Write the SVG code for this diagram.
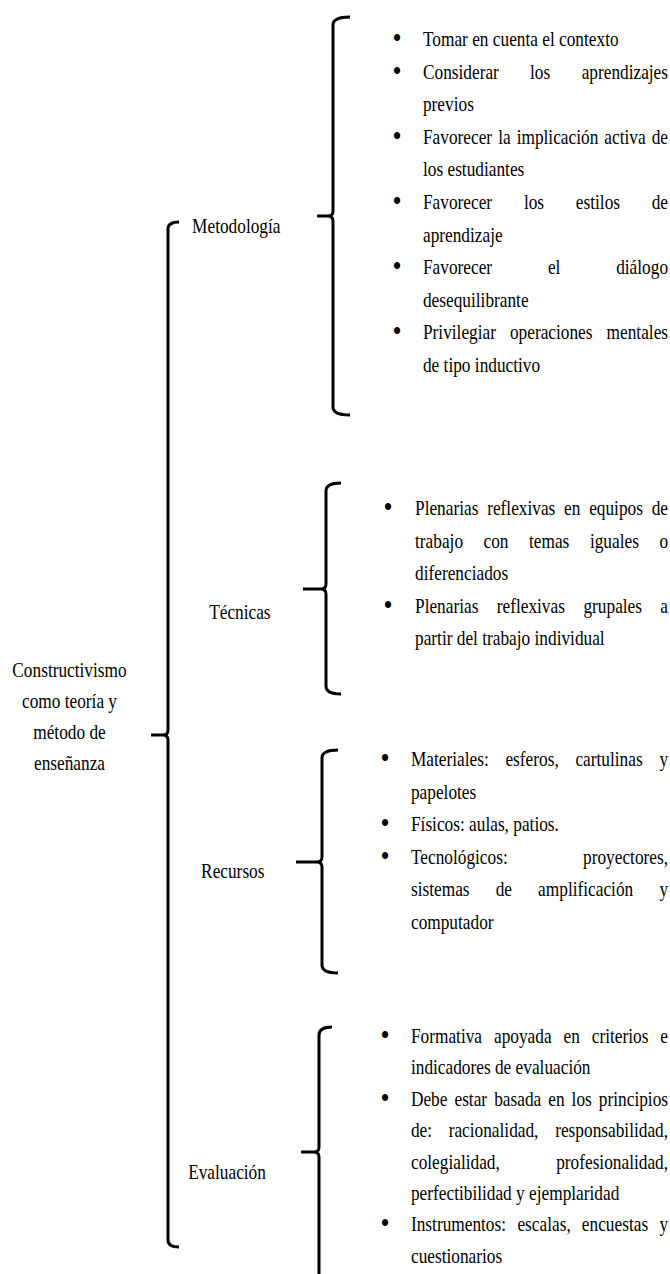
<svg xmlns="http://www.w3.org/2000/svg" width="670" height="1274" viewBox="0 0 670 1274">
<style>
.t{font-family:"Liberation Serif","Times New Roman",serif;font-size:20px;fill:#000}
.e{text-anchor:end}
.m{text-anchor:middle}
.bu{text-anchor:middle;font-size:30px}
.br{fill:none;stroke:#000;stroke-width:3;stroke-linejoin:round}
</style>
<rect width="670" height="1274" fill="#fff"/>
<g id="connectors">
<path class="br" d="M179,222 Q168,222 168,229 V730 Q168,735 163,735 H151 M163,735 Q168,735 168,740 V1240 Q168,1247 179,1247"/>
<path class="br" d="M350,17 Q333,17 333,25 V211 Q333,216 328,216 H317 M328,216 Q333,216 333,221 V407 Q333,415 350,415"/>
<path class="br" d="M341,483 Q326,483 326,491 V584 Q326,589 321,589 H303 M321,589 Q326,589 326,594 V686 Q326,694 341,694"/>
<path class="br" d="M338,750 Q322,750 322,758 V857 Q322,862 317,862 H296 M317,862 Q322,862 322,867 V965 Q322,973 338,973"/>
<path class="br" d="M332,1027 Q319,1027 319,1035 V1147 Q319,1152 314,1152 H301 M314,1152 Q319,1152 319,1157 V1274"/>
</g>
<g id="root" class="t" transform="scale(0.865 1)">
<text x="80.35" y="677" class="m">Constructivismo</text>
<text x="80.35" y="708" class="m">como teoría y</text>
<text x="80.35" y="739" class="m">método de</text>
<text x="80.35" y="770" class="m">enseñanza</text>
</g>
<g id="metodologia" class="t" transform="scale(0.865 1)"><text x="222.1" y="233">Metodología</text></g>
<g id="tecnicas" class="t" transform="scale(0.865 1)"><text x="241.8" y="619">Técnicas</text></g>
<g id="recursos" class="t" transform="scale(0.865 1)"><text x="232.5" y="878">Recursos</text></g>
<g id="evaluacion" class="t" transform="scale(0.865 1)"><text x="217.5" y="1179">Evaluación</text></g>
<g id="list-metodologia" class="t" transform="scale(0.865 1)">
<text x="459" y="48" class="bu">•</text>
<text x="489" y="46">Tomar en cuenta el contexto</text>
<text x="459" y="80.6" class="bu">•</text>
<text x="489" y="78.6">Considerar</text><text x="612.8" y="78.6">los</text><text x="772.3" y="78.6" class="e">aprendizajes</text>
<text x="489" y="111.2">previos</text>
<text x="459" y="145.8" class="bu">•</text>
<text x="489" y="143.8">Favorecer</text><text x="576" y="143.8">la</text><text x="597.3" y="143.8">implicación</text><text x="698.7" y="143.8">activa</text><text x="772.3" y="143.8" class="e">de</text>
<text x="489" y="176.4">los estudiantes</text>
<text x="459" y="211" class="bu">•</text>
<text x="489" y="209">Favorecer</text><text x="605.7" y="209">los</text><text x="665.7" y="209">estilos</text><text x="772.3" y="209" class="e">de</text>
<text x="489" y="241.6">aprendizaje</text>
<text x="459" y="276.2" class="bu">•</text>
<text x="489" y="274.2">Favorecer</text><text x="633.4" y="274.2">el</text><text x="772.3" y="274.2" class="e">diálogo</text>
<text x="489" y="306.8">desequilibrante</text>
<text x="459" y="341.4" class="bu">•</text>
<text x="489" y="339.4">Privilegiar</text><text x="589.5" y="339.4">operaciones</text><text x="772.3" y="339.4" class="e">mentales</text>
<text x="489" y="372">de tipo inductivo</text>
</g>
<g id="list-tecnicas" class="t" transform="scale(0.865 1)">
<text x="448.6" y="517" class="bu">•</text>
<text x="479.8" y="515">Plenarias</text><text x="563.2" y="515">reflexivas</text><text x="652.1" y="515">en</text><text x="681.1" y="515">equipos</text><text x="772.3" y="515" class="e">de</text>
<text x="479.8" y="547.6">trabajo</text><text x="559" y="547.6">con</text><text x="611.6" y="547.6">temas</text><text x="682" y="547.6">iguales</text><text x="772.3" y="547.6" class="e">o</text>
<text x="479.8" y="580.2">diferenciados</text>
<text x="448.6" y="614.8" class="bu">•</text>
<text x="479.8" y="612.8">Plenarias</text><text x="574.3" y="612.8">reflexivas</text><text x="674.5" y="612.8">grupales</text><text x="772.3" y="612.8" class="e">a</text>
<text x="479.8" y="645.4">partir del trabajo individual</text>
</g>
<g id="list-recursos" class="t" transform="scale(0.865 1)">
<text x="445.1" y="768" class="bu">•</text>
<text x="475.1" y="766">Materiales:</text><text x="584.3" y="766">esferos,</text><text x="665.2" y="766">cartulinas</text><text x="772.3" y="766" class="e">y</text>
<text x="475.1" y="798.6">papelotes</text>
<text x="445.1" y="833.2" class="bu">•</text>
<text x="475.1" y="831.2">Físicos: aulas, patios.</text>
<text x="445.1" y="865.8" class="bu">•</text>
<text x="475.1" y="863.8">Tecnológicos:</text><text x="772.3" y="863.8" class="e">proyectores,</text>
<text x="475.1" y="896.4">sistemas</text><text x="573.1" y="896.4">de</text><text x="622.1" y="896.4">amplificación</text><text x="772.3" y="896.4" class="e">y</text>
<text x="475.1" y="929">computador</text>
</g>
<g id="list-evaluacion" class="t" transform="scale(0.865 1)">
<text x="445.1" y="1045" class="bu">•</text>
<text x="475.1" y="1043">Formativa</text><text x="571.1" y="1043">apoyada</text><text x="651.5" y="1043">en</text><text x="684.1" y="1043">criterios</text><text x="772.3" y="1043" class="e">e</text>
<text x="475.1" y="1074.4">indicadores de evaluación</text>
<text x="445.1" y="1107.8" class="bu">•</text>
<text x="475.1" y="1105.8">Debe</text><text x="525.4" y="1105.8">estar</text><text x="571.3" y="1105.8">basada</text><text x="633.9" y="1105.8">en</text><text x="660.8" y="1105.8">los</text><text x="772.3" y="1105.8" class="e">principios</text>
<text x="475.1" y="1137.2">de:</text><text x="518.7" y="1137.2">racionalidad,</text><text x="772.3" y="1137.2" class="e">responsabilidad,</text>
<text x="475.1" y="1168.6">colegialidad,</text><text x="772.3" y="1168.6" class="e">profesionalidad,</text>
<text x="475.1" y="1200">perfectibilidad y ejemplaridad</text>
<text x="445.1" y="1233.4" class="bu">•</text>
<text x="475.1" y="1231.4">Instrumentos:</text><text x="598.2" y="1231.4">escalas,</text><text x="672.7" y="1231.4">encuestas</text><text x="772.3" y="1231.4" class="e">y</text>
<text x="475.1" y="1262.8">cuestionarios</text>
</g>
</svg>
